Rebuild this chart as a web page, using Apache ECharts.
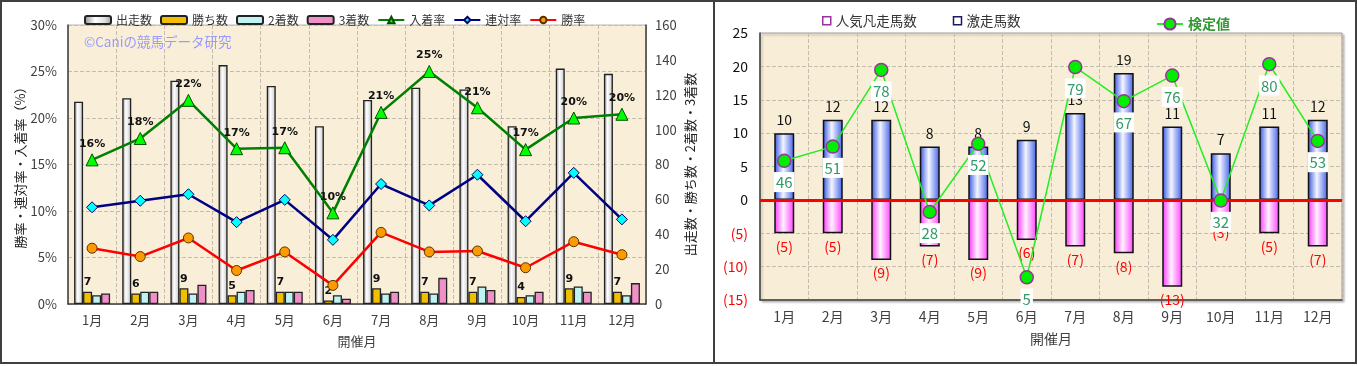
<!DOCTYPE html>
<html>
<head>
<meta charset="utf-8">
<script src="https://cdn.jsdelivr.net/npm/echarts@6/dist/echarts.min.js"></script>
<style>
html,body{margin:0;padding:0;background:#fff;}
#c{width:1357px;height:366px;}
</style>
</head>
<body>
<div id="c"></div>
<script>
// ---- Left chart data ----
const months = ['1月','2月','3月','4月','5月','6月','7月','8月','9月','10月','11月','12月'];
const starts  = [116,118,128,137,125,102,117,124,123,102,135,132];
const wins    = [7,6,9,5,7,2,9,7,7,4,9,7];
const seconds = [5,7,6,7,7,5,6,6,10,5,10,5];
const thirds  = [6,7,11,8,7,3,7,15,8,7,7,12];
const placeRate    = [15.5,17.8,21.9,16.7,16.8,9.8,20.6,25.0,21.1,16.6,20.0,20.4];
const quinellaRate = [10.4,11.1,11.8,8.8,11.2,6.9,12.9,10.6,13.9,8.9,14.1,9.1];
const winRate      = [6.0,5.1,7.1,3.6,5.6,2.0,7.7,5.6,5.7,3.9,6.7,5.3];
const leftTicksPct = [0,5,10,15,20,25,30];
const rightTicksCnt = [0,20,40,60,80,100,120,140,160];

// ---- Right chart data ----
const upsetCount = [10,12,12,8,8,9,13,19,11,7,11,12];          // 激走馬数
const flopCount  = [-5,-5,-9,-7,-9,-6,-7,-8,-13,-3,-5,-7];      // 人気凡走馬数
const testValue  = [46,51,78,28,52,5,79,67,76,32,80,53];        // 検定値

const FONT = '"Noto Sans CJK JP","Noto Sans",sans-serif';
const G = echarts.graphic.LinearGradient;
const grayCyl = new G(0,0,1,0,[{offset:0,color:'#8c8c8c'},{offset:0.4,color:'#ffffff'},{offset:0.75,color:'#dedede'},{offset:1,color:'#9a9a9a'}]);
const blueCyl = new G(0,0,1,0,[{offset:0,color:'#3050e0'},{offset:0.45,color:'#f4f6ff'},{offset:1,color:'#4060e8'}]);
const pinkCyl = new G(0,0,1,0,[{offset:0,color:'#ff30ff'},{offset:0.45,color:'#fff2ff'},{offset:1,color:'#ff40ff'}]);

const chart = echarts.init(document.getElementById('c'), null, {renderer:'canvas'});

const option = {
  animation:false,
  textStyle:{fontFamily:FONT},
  graphic:[
    {type:'rect', shape:{x:1,y:1,width:713,height:362}, style:{fill:'none',stroke:'#404040',lineWidth:2}, z:100},
    {type:'rect', shape:{x:714,y:1,width:642,height:362}, style:{fill:'none',stroke:'#404040',lineWidth:2}, z:100},
    {type:'text', left:84, top:35, z:50, style:{text:'©Caniの競馬データ研究', fill:'#9999ff', font:'13.5px '+FONT}}
  ],
  legend:[
    {
      left:79, top:9, itemWidth:26, itemHeight:8, itemGap:8,
      textStyle:{fontSize:12,color:'#333',fontFamily:FONT},
      data:[
        {name:'出走数', icon:'roundRect'},
        {name:'勝ち数', icon:'roundRect'},
        {name:'2着数', icon:'roundRect'},
        {name:'3着数', icon:'roundRect'},
        '入着率','連対率','勝率'
      ]
    },
    {
      left:817, top:9, itemWidth:8, itemHeight:8, itemGap:36,
      textStyle:{fontSize:13.5,color:'#333',fontFamily:FONT},
      data:[
        {name:'人気凡走馬数', icon:'rect', itemStyle:{color:'#fff',borderColor:'#993399',borderWidth:1.5}},
        {name:'激走馬数', icon:'rect', itemStyle:{color:'#fff',borderColor:'#1a1a60',borderWidth:1.5}}
      ]
    },
    {
      left:1151, top:12, itemWidth:26, itemHeight:14, itemGap:8,
      textStyle:{fontSize:14,color:'#339933',fontWeight:'bold',fontFamily:FONT},
      data:['検定値']
    }
  ],
  grid:[
    {left:68, top:25, width:578, height:279, show:true, backgroundColor:'#f9efd9', borderColor:'#b8b8b8', borderWidth:1},
    {left:760, top:33, width:582, height:267, show:true, backgroundColor:'#f8eed8', borderColor:'#9a9a9a', borderWidth:1,
     shadowColor:'rgba(0,0,0,0.25)', shadowBlur:2, shadowOffsetX:2, shadowOffsetY:2}
  ],
  xAxis:[
    {
      gridIndex:0, type:'category', data:months,
      axisTick:{show:false},
      axisLine:{lineStyle:{color:'#404040',width:1.5}},
      axisLabel:{fontSize:13,color:'#404040',margin:10},
      splitLine:{show:true,interval:0,lineStyle:{color:'#c4bcae',type:'dashed'}},
      name:'開催月', nameLocation:'middle', nameGap:31,
      nameTextStyle:{fontSize:13,color:'#404040'}
    },
    {
      gridIndex:1, type:'category', data:months,
      axisTick:{show:false},
      axisLine:{onZero:false, lineStyle:{color:'#404040',width:1.5}},
      axisLabel:{fontSize:14,color:'#404040',margin:10},
      splitLine:{show:true,interval:0,lineStyle:{color:'#c4bcae',type:'dashed'}},
      name:'開催月', nameLocation:'middle', nameGap:32,
      nameTextStyle:{fontSize:14,color:'#404040'}
    }
  ],
  yAxis:[
    {
      gridIndex:0, type:'value', min:leftTicksPct[0], max:leftTicksPct[leftTicksPct.length-1], interval:5,
      axisLine:{show:true,lineStyle:{color:'#404040',width:1.5}},
      axisTick:{show:false},
      axisLabel:{fontSize:13,color:'#404040',margin:11,formatter:'{value}%'},
      splitLine:{show:true,lineStyle:{color:'#c4bcae',type:'dashed'}},
      name:'勝率・連対率・入着率（%）', nameLocation:'middle', nameGap:37, nameRotate:90,
      nameTextStyle:{fontSize:13,color:'#222'}
    },
    {
      gridIndex:0, type:'value', position:'right', min:rightTicksCnt[0], max:rightTicksCnt[rightTicksCnt.length-1], interval:20,
      axisLine:{show:true,lineStyle:{color:'#404040',width:1.5}},
      axisTick:{show:false},
      axisLabel:{fontSize:13,color:'#404040',margin:9},
      splitLine:{show:false},
      name:'出走数・勝ち数・2着数・3着数', nameLocation:'middle', nameGap:38, nameRotate:90,
      nameTextStyle:{fontSize:13,color:'#222'}
    },
    {
      gridIndex:1, type:'value', min:-15, max:25, interval:5,
      axisLine:{show:true,lineStyle:{color:'#404040',width:1.5}},
      axisTick:{show:false},
      axisLabel:{fontSize:14,color:'#111',margin:12,
        formatter:function(v){return v<0?'{neg|('+(-v)+')}':String(v);},
        rich:{neg:{color:'#ff0000',fontSize:14}}},
      splitLine:{show:true,lineStyle:{color:'#c4bcae',type:'dashed'}}
    },
    {
      gridIndex:1, type:'value', min:-3, max:91, show:false, splitLine:{show:false}
    }
  ],
  series:[
    {name:'出走数', type:'bar', xAxisIndex:0, yAxisIndex:1, data:starts, barWidth:9, barGap:'0%',
     itemStyle:{color:grayCyl, borderColor:'#222', borderWidth:1.3}},
    {name:'勝ち数', type:'bar', xAxisIndex:0, yAxisIndex:1, data:wins, barWidth:9, barGap:'0%',
     itemStyle:{color:'#f0c000', borderColor:'#222', borderWidth:1.3},
     label:{show:true, position:'top', distance:4, fontSize:11, fontWeight:'bold', color:'#111', fontFamily:'"DejaVu Sans",sans-serif'}},
    {name:'2着数', type:'bar', xAxisIndex:0, yAxisIndex:1, data:seconds, barWidth:9, barGap:'0%',
     itemStyle:{color:'#bff3f3', borderColor:'#222', borderWidth:1.3}},
    {name:'3着数', type:'bar', xAxisIndex:0, yAxisIndex:1, data:thirds, barWidth:9, barGap:'0%',
     itemStyle:{color:'#f090c8', borderColor:'#222', borderWidth:1.3}},
    {name:'入着率', type:'line', xAxisIndex:0, yAxisIndex:0, data:placeRate, z:5,
     lineStyle:{color:'#008000', width:2.5}, symbol:'triangle', symbolSize:12,
     itemStyle:{color:'#00ff00', borderColor:'#005000', borderWidth:1},
     label:{show:true, position:'top', distance:4, fontSize:11, fontWeight:'bold', color:'#111', fontFamily:'"DejaVu Sans",sans-serif',
       formatter:function(p){return Math.round(p.value)+'%';}}},
    {name:'連対率', type:'line', xAxisIndex:0, yAxisIndex:0, data:quinellaRate, z:5,
     lineStyle:{color:'#000080', width:2.5}, symbol:'diamond', symbolSize:11,
     itemStyle:{color:'#00ffff', borderColor:'#000060', borderWidth:1}},
    {name:'勝率', type:'line', xAxisIndex:0, yAxisIndex:0, data:winRate, z:5,
     lineStyle:{color:'#ff0000', width:2.5}, symbol:'circle', symbolSize:10,
     itemStyle:{color:'#ff9900', borderColor:'#553300', borderWidth:1}},

    {name:'人気凡走馬数', type:'bar', xAxisIndex:1, yAxisIndex:2, data:flopCount, stack:'r', barWidth:20,
     itemStyle:{color:pinkCyl, borderColor:'#111', borderWidth:1.5},
     label:{show:true, position:'bottom', distance:6, fontSize:14, color:'#ff0000',
       formatter:function(p){return '('+(-p.value)+')';}}},
    {name:'激走馬数', type:'bar', xAxisIndex:1, yAxisIndex:2, data:upsetCount, stack:'r', barWidth:20,
     itemStyle:{color:blueCyl, borderColor:'#111', borderWidth:1.5},
     label:{show:true, position:'top', distance:6, fontSize:14, color:'#111'},
     markLine:{silent:true, symbol:'none', label:{show:false},
       lineStyle:{color:'#ff0000', width:3, type:'solid'}, data:[{yAxis:0}]}},
    {name:'検定値', type:'line', xAxisIndex:1, yAxisIndex:3, data:testValue, z:10,
     lineStyle:{color:'#22ee22', width:1.5}, symbol:'circle', symbolSize:13,
     itemStyle:{color:'#00ee00', borderColor:'#993399', borderWidth:1.5},
     label:{show:true, position:'bottom', distance:4, fontSize:15, color:'#339966',
       backgroundColor:'#ffffff', padding:[2,2,1,2], lineHeight:17}}
  ]
};
chart.setOption(option);
</script>
</body>
</html>
